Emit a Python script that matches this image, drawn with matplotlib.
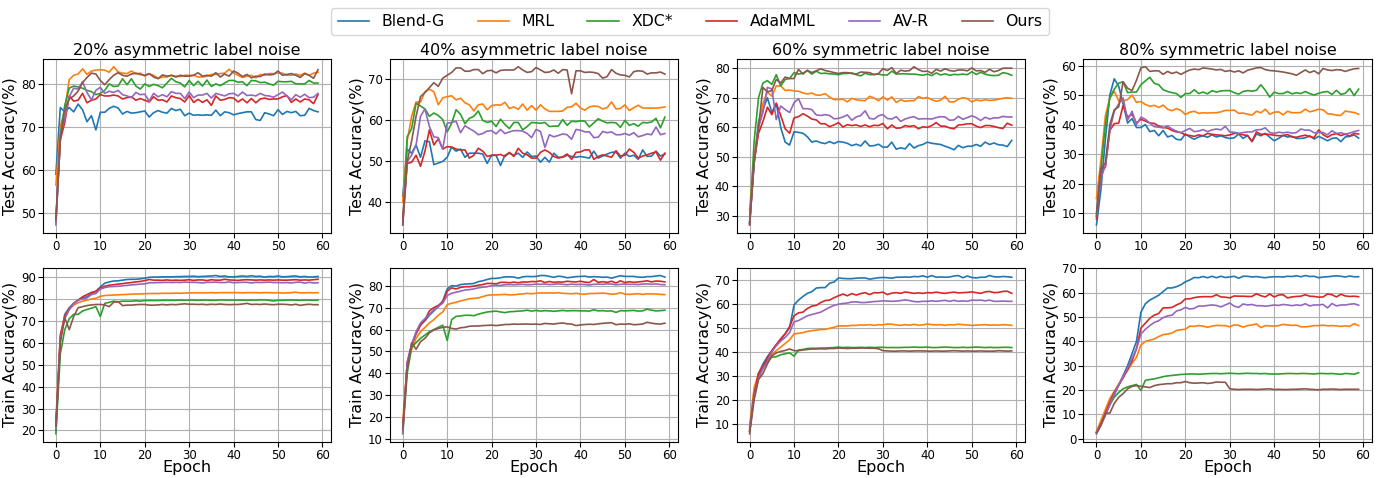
import matplotlib
matplotlib.use("Agg")
import matplotlib.pyplot as plt
from matplotlib.ticker import MultipleLocator

methods = ["Blend-G", "MRL", "XDC*", "AdaMML", "AV-R", "Ours"]
colors = ["#1f77b4", "#ff7f0e", "#2ca02c", "#d62728", "#9467bd", "#8c564b"]
epochs = list(range(60))

titles = ["20% asymmetric label noise", "40% asymmetric label noise",
          "60% symmetric label noise", "80% symmetric label noise"]

# ---- test accuracy, 20% asymmetric ----
test20_blend = [59, 74.5, 73.5, 74.5, 73.5, 75.3, 74, 71.2, 72.6, 69.3, 73.4, 73.4, 74.3, 74.8, 74.4, 73, 73.6, 73.2, 73.3, 73.5,
                73.7, 72.3, 73.3, 73.8, 73.4, 73.2, 74.3, 73.8, 74.1, 72.6, 73.2, 72.7, 72.8, 72.7, 72.8, 72.7, 73.9, 72.6, 73.5, 73.3,
                72.8, 73.1, 73.3, 73.5, 73.5, 71.7, 71.5, 73.3, 73, 72.6, 74, 72.9, 73.6, 73.3, 73.6, 72.6, 72.7, 74.3, 73.8, 73.5]
test20_mrl = [56.5, 70, 74, 81, 82, 82.3, 83.5, 82.2, 83, 83.2, 83.3, 83.2, 82.7, 84, 82.8, 82.5, 82.4, 83, 82.3, 82.5,
              81.8, 82.3, 82, 81.3, 81.6, 81.6, 82, 81.8, 81.7, 82, 82, 82, 81.6, 81.6, 81.8, 82.2, 82.2, 82.4, 82.5, 83.4,
              82.5, 82, 81.5, 81.8, 82, 81.4, 82.2, 82, 82.4, 82.4, 82.5, 82.5, 82, 82, 82.3, 82, 82.5, 82, 82.5, 82.7]
test20_xdc = [48, 68, 75, 79, 79.5, 79.3, 79, 78.5, 78.2, 77.5, 77.8, 78.5, 80, 79.4, 79.5, 81.2, 79.8, 81.2, 79.5, 78.8,
              80, 79.4, 79.9, 79.6, 79.1, 80.2, 81.3, 80.5, 80.2, 79.3, 80.8, 79.6, 80.6, 79.5, 80.9, 79.4, 80, 79.6, 80.2, 80.8,
              80.8, 80.4, 80.5, 79.6, 80.8, 80.7, 80.3, 80.4, 80, 79.7, 80.6, 80.5, 80.5, 80.6, 80, 80, 80, 80.8, 80.2, 80.2]
test20_ada = [48, 67, 71, 77.2, 76, 76.2, 77.8, 75.6, 76.2, 76.5, 77.5, 77.2, 77.2, 77.4, 77.2, 76.5, 76.8, 77, 76.2, 76.6,
              76.2, 75.8, 77, 76.2, 76.3, 75.8, 77.2, 76.8, 76.6, 75.8, 77.3, 75.7, 76.4, 75.7, 76.3, 75, 77.2, 76.2, 76.4, 76.8,
              76.7, 75.8, 76.5, 75.6, 76.6, 75.6, 76.5, 76.7, 76.4, 76.5, 76.5, 77, 77.3, 75.7, 76.5, 75.8, 76.5, 76.3, 75.4, 77.5]
test20_avr = [47.2, 68, 72, 77, 79, 78.8, 80.5, 78, 76.3, 78.5, 79.2, 77.8, 78.3, 78, 78.5, 77.5, 77.2, 76.8, 78, 77.5,
              77.6, 76, 77.8, 77, 77.5, 77, 78.2, 77.8, 77.8, 76.6, 78.1, 76.8, 77.4, 77.4, 77.8, 76.7, 77.8, 77.5, 77.2, 77.7,
              77.8, 77.2, 78.1, 77.3, 77.4, 77.2, 77.8, 77.3, 77.2, 76.9, 77.5, 78.1, 77.2, 76.3, 77.5, 76.9, 77.6, 76.8, 76.9, 77.8]
test20_ours = [48.5, 67, 74, 76.5, 77.2, 78.3, 80.3, 81.5, 82.5, 82.3, 80.8, 79.8, 81, 82, 82.6, 82, 81.8, 82.3, 82.5, 82.2,
               82, 82.4, 81.6, 81.2, 82.1, 81.8, 82, 81.6, 82, 81.8, 81.8, 82, 82.6, 81.8, 82, 81.8, 82.6, 81.6, 82.3, 81.8,
               83, 82.5, 81.7, 82.2, 81.4, 81.8, 81.7, 82.3, 82.1, 82.2, 83, 82, 82.2, 82.4, 82, 81.5, 82.4, 82, 81.3, 83.3]

# ---- test accuracy, 40% asymmetric ----
test40_blend = [41.5, 53, 52, 54, 51, 55, 54.8, 49.2, 49.6, 50, 51, 53.5, 52.5, 53, 51, 52, 52, 52, 51.8, 49.5,
                51.5, 51.5, 49, 51.5, 52, 51.5, 52, 51, 52.3, 51.2, 51.3, 49.8, 51, 49.8, 52, 51, 51, 51.5, 51.2, 51,
                51.2, 51, 50.8, 52.5, 50.8, 51.3, 51.8, 52.2, 52.3, 50.8, 52, 51.2, 51.5, 50.5, 52.8, 51.2, 51.3, 52.5, 51.3, 51.8]
test40_mrl = [40, 55, 61, 64.5, 64.5, 67, 67.6, 67, 63.8, 65.5, 65.8, 66, 65, 65.4, 64.3, 63.8, 62.3, 63.8, 64, 62.6,
              63.6, 63.8, 63.7, 64.4, 62.9, 63.3, 62.7, 64, 62.5, 63.6, 62.5, 63.8, 62.8, 62.2, 62.2, 62.2, 62.3, 63.2, 63.3, 64.2,
              63, 62.5, 63.3, 63.5, 63.4, 62.8, 63.1, 64.5, 62.8, 62.9, 63.8, 62.4, 63.1, 63.7, 63, 63, 63, 63, 63.1, 63.3]
test40_xdc = [35, 56, 58, 64.2, 63.5, 62.8, 61, 61.8, 61.2, 60.2, 57.2, 59.3, 62.6, 61.5, 59.2, 60.5, 61, 62.3, 60, 59.5,
              59.8, 58.5, 60.3, 59, 58, 59.5, 59.5, 57.7, 58.5, 59.5, 59.4, 59.3, 59.5, 58.5, 58.6, 58.6, 60.2, 58.8, 59.8, 59.7,
              59.9, 59.8, 58.4, 59.4, 60.4, 59.8, 59.4, 59.5, 59.4, 58.3, 60, 58.8, 59.2, 58.6, 59.5, 59.4, 59.6, 60.5, 58.2, 60.8]
test40_ada = [36, 49.5, 49.8, 51.5, 48.8, 52.5, 57.7, 54, 55.5, 53, 53.6, 53.5, 53, 52.8, 52.8, 50.8, 51.5, 53.2, 52.5, 51.2,
              51.5, 51.5, 51.7, 51.2, 52.2, 51.2, 53.2, 52, 51.6, 50.8, 50.8, 52.2, 52.8, 52.2, 51.2, 50.8, 51.1, 51.8, 50.5, 52.2,
              52.3, 52.8, 52.8, 50.5, 51.2, 51.6, 51.3, 51, 52.6, 51.3, 51.5, 53, 52.2, 50.8, 51.3, 51.6, 52, 52.3, 50.3, 52]
test40_avr = [34.5, 50, 51.5, 54, 61, 62.8, 58.5, 56, 55.8, 53, 59.3, 59.5, 59.8, 57, 58.7, 58, 57.4, 56.5, 56.8, 57.4,
              57.5, 56.7, 57.8, 56.8, 57.2, 57.5, 57.5, 57.4, 56.8, 55.8, 57.8, 57.3, 53.4, 56.5, 56, 56.3, 56.7, 56.5, 55.4, 57.8,
              57.6, 57.2, 57.2, 55.8, 55.9, 57.3, 57, 57.2, 56.5, 56.5, 56.8, 56.4, 57, 56, 56.3, 56.7, 56.5, 58.4, 56.5, 56.8]
test40_ours = [34.5, 50, 55, 61, 65.8, 66.8, 68, 69.2, 68.3, 70.3, 71, 71.7, 72.8, 72.8, 72, 72, 72.4, 72.4, 71.4, 72.1,
               72.2, 71.6, 72.2, 72.3, 72.3, 72.3, 73.1, 72.3, 71.7, 71.9, 72.9, 72.3, 71.7, 71.8, 72.3, 71.5, 72.4, 72.3, 66.5, 72.1,
               72.1, 71.7, 71.8, 71.7, 71.4, 70.3, 70.7, 72.4, 71.5, 71.1, 71, 70.6, 71.9, 72.1, 72, 71.3, 71.6, 71.6, 71.8, 71.3]

# ---- test accuracy, 60% symmetric ----
test60_blend = [28, 48, 62, 66, 70, 65, 68, 60, 55, 54, 58.5, 58.3, 58, 56.8, 55, 55.4, 54.8, 54.5, 55.2, 54.5,
                55.2, 55, 54.6, 53.8, 54.3, 53.7, 55.4, 53.7, 53.8, 54.3, 53.3, 53.3, 55, 52.6, 53.1, 52.7, 54.5, 53, 53.8, 54.2,
                55, 54.6, 54.4, 54.2, 53.6, 53.1, 52.4, 53.9, 53.1, 53.6, 53.6, 54.2, 53.6, 55, 54.2, 54.7, 54.1, 54, 53.5, 55.6]
test60_mrl = [32, 50, 60, 68, 72, 70.5, 74, 74, 72.5, 72.6, 72.3, 72.2, 71.6, 71.3, 71.6, 70.9, 70.9, 71.4, 70.2, 69.4,
              69.4, 69.5, 68.6, 69.8, 69.3, 69.1, 69, 70.5, 69.9, 69, 70.3, 69.2, 70.3, 68.4, 69.3, 68.8, 69, 69, 70.4, 69.8,
              70.1, 69.3, 68.8, 69.2, 70.5, 68.6, 68.6, 69.5, 70, 69.7, 68.6, 69.3, 69, 69.3, 69.1, 69.2, 69.5, 69.8, 70, 69.8]
test60_xdc = [27.5, 55, 70, 75, 75.8, 74.5, 77.8, 74, 76.2, 76.5, 78.5, 78, 78.3, 79.2, 78, 79, 78.2, 78.3, 78.1, 78,
              77.8, 78.2, 78.2, 78.4, 77.8, 77.4, 78.3, 77.8, 77.9, 78, 77.7, 77.7, 79, 78, 78.1, 78.1, 78, 78, 77.8, 77.6,
              78, 77.5, 78.4, 77.7, 78.1, 77.6, 77.9, 77.8, 78, 77.8, 78.8, 77.9, 78.6, 78, 77.6, 77.5, 77.6, 78.5, 78.2, 77.6]
test60_ada = [27.5, 48, 58, 62, 66.8, 64.3, 68.2, 64, 59.5, 58, 63.2, 63.6, 64.6, 63.8, 62.8, 62.5, 61.2, 61.2, 60.2, 60.8,
              61.6, 60.1, 60.9, 60.6, 60.8, 60.3, 60.8, 60.2, 60.7, 60.6, 61.3, 59.5, 60.8, 59.7, 59.8, 60.6, 60.3, 60.6, 59.5, 60.2,
              60, 60.6, 61.6, 60.4, 60.4, 59.8, 59.5, 60.8, 60.9, 61.2, 61.2, 60.4, 59.9, 60.6, 60.6, 60.3, 59.9, 59.6, 61.4, 60.7]
test60_avr = [27, 48, 60, 65, 73.5, 73, 62.6, 67.2, 66, 65, 68.3, 69.7, 66.3, 66.3, 66, 64.2, 64, 64.3, 64, 62.9,
              63, 63.5, 64.2, 62.4, 63.5, 64, 65.6, 63, 62.8, 63.9, 64.3, 63, 62.8, 63.6, 62, 62.8, 63.3, 63.6, 62.8, 62.9,
              62.9, 62.8, 63.3, 63.6, 63.5, 62.4, 62.5, 63.7, 62.7, 63.3, 63.9, 63.3, 62.3, 63.4, 62.8, 63.2, 63.2, 63.7, 63.5, 63.5]
test60_ours = [27, 48, 60, 73.5, 72, 72.5, 76.2, 75, 77, 76.5, 76.5, 79.6, 78, 79.3, 78.5, 79.1, 79.8, 79.2, 78.9, 78.5,
               78.2, 78.5, 78.5, 78.2, 78, 78.7, 78.6, 78.5, 77.8, 78.2, 79.8, 79.2, 80.2, 78.2, 79.3, 79, 79.2, 80.5, 79.5, 78.9,
               79, 78.3, 79.6, 79, 79.8, 79.2, 79, 79.4, 79.4, 79.1, 80.1, 79.1, 79.2, 78.6, 79.6, 78.8, 79.2, 80, 80, 80]

# ---- test accuracy, 80% symmetric ----
test80_blend = [6, 18, 35, 50, 55.5, 53, 47, 40.5, 42, 39, 39, 40, 37.6, 38, 36.2, 38, 35.8, 36.3, 35, 34.8,
                36.8, 35.8, 35, 35.8, 36.2, 35.7, 36.5, 35.8, 36.2, 35.6, 35.3, 35.5, 36.8, 35.3, 36.3, 34.2, 36.8, 36.2, 37, 35.7,
                34.5, 35.3, 36.3, 35.8, 36, 35.3, 35.3, 35.5, 36.2, 35.1, 36, 35.3, 34.5, 35.3, 35.5, 34.2, 35.8, 36, 36.5, 35.4]
test80_mrl = [15, 28, 43, 49, 51.3, 48, 48, 48.5, 50, 47.5, 47.8, 46.8, 46.2, 46.5, 45.8, 46.6, 45.2, 44.7, 45.4, 44.8,
              43.4, 44.2, 44.5, 43.8, 44, 43.9, 44, 44, 44.3, 44.8, 44.8, 44.9, 43.8, 43.9, 43.5, 43.2, 44.5, 44, 45.2, 43.5,
              44.2, 44.3, 43.3, 44.5, 44, 44, 44.1, 45.2, 44.3, 44.7, 45.2, 45, 43.7, 43.5, 43.2, 43.1, 44.6, 44.3, 44.1, 43.5]
test80_xdc = [10, 25, 40, 49, 52, 54, 54.5, 50.8, 51, 51, 53.5, 54.8, 56, 54, 53.5, 51.8, 51.2, 50.8, 50.5, 49.2,
              50.5, 50.5, 51.8, 50.5, 51, 50.4, 51.5, 51, 51.4, 51.5, 51.5, 50.8, 50.3, 51.2, 51.5, 51.3, 51.6, 53.5, 51.6, 49.3,
              51, 50.5, 50.5, 51.2, 50.4, 50.8, 50.5, 51.2, 50.5, 50, 50.6, 51, 51.2, 50.2, 51.6, 50.2, 50.6, 52.2, 49.8, 52]
test80_ada = [8, 25, 25.5, 38, 40.3, 40.5, 46.5, 42.5, 43.5, 40.5, 41.8, 41.2, 40.5, 40.4, 39.5, 39, 38.8, 38, 37.5, 37.3,
              36.5, 36.3, 36, 36.5, 36.2, 37, 36.7, 36.5, 36.4, 36.2, 36.5, 37, 37, 36.5, 36.3, 34.3, 37.5, 36.7, 36.8, 36.6,
              36.4, 36.2, 36.3, 36.6, 35.8, 35.7, 36.1, 36.4, 35.9, 35.6, 38.2, 36.6, 35.7, 36.6, 36.9, 36.3, 36.7, 36.1, 37, 36.8]
test80_avr = [9, 22, 26, 38, 44.5, 47, 49, 41.5, 44.5, 40, 42.5, 41.8, 40.5, 39.3, 39.1, 38.9, 39.5, 38.5, 37.8, 37.2,
              38, 38.7, 37.6, 37.8, 38.3, 37.6, 38.2, 38.5, 38.2, 39.4, 37.5, 37.4, 37, 37.3, 37.5, 37.5, 38.2, 38.3, 38.9, 37.3,
              37, 37.4, 37.2, 37.4, 37.1, 37.3, 38.5, 38.1, 38.1, 37.2, 37.3, 37.3, 36.5, 37.9, 37, 37.2, 36.8, 37.1, 37.6, 38]
test80_ours = [9, 25, 27, 40, 45, 46, 54.5, 52.3, 51.5, 55, 59.2, 59.6, 58, 58.2, 58.2, 57, 58, 57.3, 57.8, 57,
               57.8, 58.5, 58.8, 58.6, 59.2, 59, 58.8, 58.5, 58.7, 58, 58.3, 57.8, 58.2, 57.5, 58.4, 58.8, 59.2, 59.3, 58.6, 58.3,
               58.2, 58, 57.8, 57.5, 57.2, 56.7, 57.6, 58.5, 57.6, 58.2, 57.2, 59, 58.5, 58.3, 58.6, 58.5, 58, 58.5, 58.9, 59]

# ---- train accuracy, 20% asymmetric ----
train20_blend = [20, 62, 73, 76, 78, 79.5, 80.5, 81, 82.5, 83.5, 85.5, 87.2, 87.8, 88.2, 88.3, 88.6, 88.9, 89, 89, 89.2,
                 89.5, 89.9, 90, 90, 90.1, 90.1, 90.1, 90.2, 90.2, 90.3, 90.3, 90.4, 90.2, 90.3, 90.4, 90.5, 90.7, 90.3, 90.5, 90.1,
                 90.1, 90.3, 90.5, 90.3, 90.6, 90.3, 90.4, 90, 90.3, 90.2, 90.5, 90.1, 90.2, 90.4, 90.5, 90.1, 90.3, 90, 90.1, 90.3]
train20_mrl = [24, 64, 72, 75.5, 77.2, 78.3, 79, 79.5, 80, 80.3, 81.2, 81.6, 81.7, 81.8, 81.9, 82, 82.1, 82.2, 82.3, 82.3,
               82.4, 82.5, 82.5, 82.5, 82.6, 82.6, 82.6, 82.7, 82.6, 82.7, 82.8, 82.8, 82.8, 82.8, 82.8, 82.9, 82.8, 82.9, 82.9, 82.9,
               82.9, 82.9, 82.8, 82.9, 82.9, 82.9, 82.8, 82.9, 82.9, 82.8, 82.9, 82.7, 82.8, 82.9, 83.1, 82.8, 82.8, 82.9, 82.8, 82.9]
train20_xdc = [18.5, 55, 66, 71, 73, 73, 74.5, 75.2, 75.8, 76.5, 72, 78, 78.5, 79, 78.7, 79, 79, 79, 79.2, 79,
               79.3, 79.3, 79.3, 79.3, 79.4, 79.4, 79.4, 79.4, 79.5, 79.4, 79.5, 79.5, 79.4, 79.5, 79.5, 79.4, 79.4, 79.6, 79.5, 79.5,
               79.5, 79.5, 79.5, 79.4, 79.5, 79.5, 79.6, 79.6, 79.4, 79.1, 79.4, 79.4, 79.5, 79.5, 79.5, 79.4, 79.5, 79.5, 79.4, 79.5]
train20_ada = [22, 63, 72, 75.5, 78, 79.5, 81, 82, 83, 83.5, 85, 85.8, 86.3, 86.5, 86.8, 87, 87.3, 87.5, 87.8, 88,
               88.4, 88.9, 88.6, 88.6, 88.5, 88.7, 88.5, 88.6, 88.5, 88.6, 88.8, 88.5, 88.7, 88.7, 88.4, 88.8, 88.6, 88.6, 89, 88.7,
               88.6, 88.5, 88.7, 88.8, 88.7, 88.6, 88.7, 88.6, 88.7, 88.6, 88.7, 88.6, 88.6, 88.7, 88.8, 88.6, 88.7, 88.6, 88.8, 89]
train20_avr = [21, 62, 71, 75, 77.8, 79.5, 80, 80.5, 82, 82.5, 84.5, 85.2, 85.6, 85.7, 85.8, 86, 86.2, 86.4, 86.6, 86.8,
               86.9, 87.4, 87.4, 87.5, 87.5, 87.6, 87.5, 87.6, 87.5, 87.7, 87.6, 87.6, 87.5, 87.3, 87.6, 87.6, 87.7, 87.5, 87.5, 87.8,
               87.4, 87.5, 87.6, 87.6, 87.3, 87.6, 87.5, 87.6, 87.7, 87.5, 87.5, 87.4, 87.5, 87.3, 87.6, 87.7, 87.2, 87.6, 87.3, 87.4]
train20_ours = [22, 60, 71.5, 66, 72, 76, 76.5, 77, 77.3, 77.5, 77.5, 77.3, 76.5, 78.5, 78.8, 77, 77.2, 77.2, 77.4, 77.5,
                77.5, 77.2, 77.2, 77.3, 77.5, 77.3, 77.5, 77.4, 77.6, 77.8, 77.6, 77.6, 77.5, 77.6, 77.4, 77.6, 77.5, 77.7, 77.5, 77.4,
                77.5, 77.5, 77.7, 78, 77.5, 77.6, 77.5, 77.7, 77.5, 77.4, 77.6, 77.6, 77.5, 77.3, 77.6, 77.1, 77.4, 77.6, 77.4, 77.4]

# ---- train accuracy, 40% asymmetric ----
train40_blend = [14, 44, 53, 58.5, 62, 64, 66.5, 68.5, 70.5, 73, 78.5, 80, 79.8, 80.5, 80.7, 80.8, 81, 81.8, 82.2, 82.8,
                 83.3, 83.3, 83.6, 84, 84, 83.9, 83.4, 84, 84.2, 84.1, 84.2, 84.6, 84.6, 84.2, 83.8, 84.3, 84.1, 83.6, 83.8, 84.1,
                 84.2, 84.3, 83.9, 84.1, 84, 83.8, 83.9, 83.4, 84, 84.5, 84.2, 84.2, 84.2, 83.9, 83.8, 84.1, 84.1, 84.4, 84.6, 83.9]
train40_mrl = [18, 44, 51, 56, 59, 61, 63, 64.5, 66.5, 68, 71.3, 72, 72.4, 73, 73.5, 74, 74.2, 74.4, 75, 75.6,
               75.8, 75.8, 75.9, 76, 75.8, 75.8, 76.1, 76.2, 76.5, 76.3, 76.5, 76.7, 76.6, 76.7, 76.6, 76.8, 76.5, 76.4, 76.3, 76.5,
               76.2, 76.1, 76.4, 76.4, 76.5, 76.6, 76.4, 76.1, 76.2, 76.8, 76.1, 76, 76.2, 76.3, 76, 76.3, 76.2, 76.2, 76, 75.9]
train40_xdc = [12.5, 40, 52, 54, 56, 57.5, 59, 60, 61, 62, 55, 64.5, 66, 66.2, 66.5, 66.5, 66.3, 67, 67.5, 68,
               68.2, 68.4, 68, 67.7, 68.1, 68.2, 68.4, 68.5, 68.8, 68.4, 68.7, 68.4, 68.6, 68.5, 68.3, 68.5, 68.7, 68.5, 68.6, 68.6,
               68.5, 68.5, 68.4, 69, 68.5, 68.6, 68.4, 68.5, 67.8, 68.6, 68.5, 68.6, 68.7, 68.4, 68.5, 69.3, 68.8, 68.5, 68.6, 68.8]
train40_ada = [14, 45, 53, 58, 62, 64.5, 68.5, 70, 71, 72.5, 77.5, 79, 78.5, 79.2, 79.5, 79.5, 79.8, 80.2, 80.5, 81,
               81, 80.8, 81.5, 81.5, 81.3, 81.6, 81.3, 81.7, 81.6, 81.9, 81.8, 82.2, 81.4, 81.9, 81.5, 81.7, 81.6, 82, 81.8, 81.7,
               82, 81.6, 81.4, 82.8, 81.5, 81.8, 81.5, 82, 81.2, 82.2, 81.4, 81.8, 81.5, 81.7, 81.9, 82.2, 81.7, 82.1, 82, 81.7]
train40_avr = [13, 45, 53, 59, 63, 65, 67, 69, 70.5, 72, 75.5, 76.5, 77, 77.5, 78, 78.2, 78.5, 79, 79.3, 79.5,
               80, 80.2, 80.1, 80.4, 80.5, 80.4, 80.5, 80.6, 80.4, 80.5, 80.7, 80.6, 80.7, 80.5, 80.6, 80.8, 80.6, 80.4, 80.7, 80.5,
               80.6, 80.5, 80.3, 80.6, 80.7, 80.6, 80.8, 80.7, 80.4, 80.6, 80.7, 80.6, 80.6, 80.5, 80.7, 80.8, 80.6, 80.8, 80.5, 80.4]
train40_ours = [15, 42, 54, 51, 54.5, 56, 58.5, 59.8, 60.5, 61, 61.2, 60.5, 60.2, 60.8, 61, 61.5, 61.6, 61.6, 61.8, 61.9,
                62, 61.8, 62, 62.3, 62.3, 62.5, 62.4, 62.5, 62.5, 62.4, 62.5, 62.3, 62.8, 62.6, 62.5, 62.8, 63, 62.6, 62.5, 61.8,
                62.1, 62.3, 62.4, 62.3, 62.6, 62.8, 63, 63.1, 62.2, 62.5, 62.4, 62.6, 62.2, 62.3, 62.5, 63.3, 62.9, 62.6, 62.5, 62.9]

# ---- train accuracy, 60% symmetric ----
train60_blend = [8, 23, 31, 35, 38, 40.5, 43, 45, 47.5, 50, 59.5, 61.5, 63, 64.3, 65, 66.5, 66.7, 66.7, 68.5, 69,
                 70.7, 70.5, 70.4, 70.4, 70.6, 70.7, 70.7, 70.2, 70.5, 70.8, 70.9, 70.8, 70.6, 71, 71, 71.1, 71, 71.3, 71.2, 71.6,
                 71, 71.7, 71, 71.1, 71, 71.1, 71.5, 71.7, 70.8, 71.5, 70.9, 70.7, 71, 71, 71.7, 71.2, 71.1, 71.3, 71.2, 71]
train60_mrl = [9, 25, 31, 34, 37, 39, 40.5, 42, 43.5, 45, 47.5, 47.7, 48, 48.5, 48.8, 49, 49.3, 49.3, 49.8, 50.2,
               50.8, 50.8, 50.8, 51, 51, 51.2, 51.1, 51.3, 51, 51.3, 51.2, 51.6, 51.5, 51.2, 51, 51.3, 51.1, 51.4, 51.1, 51.2,
               51.6, 51.3, 51.2, 51.3, 51, 51.3, 51.2, 51.5, 51.3, 51.2, 51, 51.1, 51.2, 51.3, 51.1, 51.2, 51.1, 51.3, 51.2, 51]
train60_xdc = [7, 22, 30, 33.5, 36, 37.8, 38, 38.8, 39.2, 39.6, 38.2, 40.8, 41, 41.4, 41.5, 41.5, 41.6, 41.6, 41.7, 41.8,
               42, 41.8, 41.9, 41.8, 41.8, 41.9, 41.8, 41.9, 41.8, 41.9, 41.9, 41.8, 41.8, 41.8, 41.8, 41.9, 41.9, 42, 41.9, 41.9,
               42, 41.8, 41.8, 41.9, 42, 41.9, 41.8, 41.8, 41.9, 41.8, 41.9, 42, 41.9, 41.8, 41.9, 41.8, 41.8, 41.9, 41.9, 41.8]
train60_ada = [7, 22, 31, 34, 37.5, 40.5, 43, 45.5, 47.5, 50.5, 55, 56.2, 56.5, 58, 59, 59.3, 60.5, 61.3, 61.5, 62.5,
               63.3, 64, 63.3, 64.2, 63.6, 64.2, 64.6, 63.8, 64.6, 64.5, 64.8, 63.8, 64.4, 64.6, 64.3, 64.9, 64.6, 64.3, 64.5, 64.3,
               64.6, 64.5, 64.8, 64.5, 64.3, 64.6, 64.8, 64.5, 64.6, 64.7, 64.9, 64.6, 64.3, 64.9, 65.1, 64.6, 64.7, 65.1, 65.2, 64.3]
train60_avr = [7, 21, 29, 33, 36, 40, 42.5, 44.5, 46, 48, 52.5, 53, 54, 55, 55.5, 56, 56.5, 57.5, 58.5, 59.3,
               59.8, 60.1, 60.3, 60.7, 60.8, 60.5, 60.5, 60.7, 60.9, 61, 61.2, 61.1, 61, 61.1, 61.3, 61.6, 61.3, 60.9, 60.8, 61,
               61, 61.2, 61, 61.2, 61.4, 61, 61.4, 61, 61.2, 61, 61.5, 61.4, 61.5, 61.2, 61.5, 61, 61, 61.1, 61, 61]
train60_ours = [6, 20, 28.5, 31, 35, 38.3, 39.6, 40.2, 40.6, 41.2, 40.5, 40.5, 40.8, 41, 41.2, 41.2, 41.3, 41.2, 41.4, 41.4,
                41.6, 41.5, 41.4, 41.5, 41.5, 41.6, 41.6, 41.5, 41.5, 41.3, 40.5, 40.4, 40.3, 40.3, 40.4, 40.4, 40.3, 40.4, 40.4, 40.4,
                40.3, 40.3, 40.4, 40.3, 40.3, 40.4, 40.5, 40.4, 40.3, 40.4, 40.3, 40.3, 40.4, 40.3, 40.3, 40.3, 40.5, 40.4, 40.3, 40.4]

# ---- train accuracy, 80% symmetric ----
train80_blend = [2.5, 6, 10, 14, 18, 22, 26, 30, 35, 40, 52, 55.5, 57, 58, 59, 60.5, 62, 62, 62.5, 63.3,
                 64.5, 65.3, 66.3, 66.2, 66.7, 66.2, 66.8, 66.2, 66.8, 66.3, 66.5, 66.8, 66, 66.8, 66.8, 66.5, 66.7, 66.4, 66.2, 66.5,
                 66.6, 66.6, 66.5, 66.8, 66.7, 67, 66.6, 67.1, 66.7, 66.8, 66.2, 66.5, 66.6, 66.8, 67, 66.8, 66.5, 66.9, 66.6, 66.6]
train80_mrl = [3, 7.5, 12, 16.5, 19.5, 22.5, 25.5, 28, 31, 33.5, 38.5, 40, 40.5, 41, 42, 42.8, 43, 43.5, 44.5, 44.8,
               45, 46.3, 46.2, 46.5, 46.3, 45.8, 46.3, 46.6, 46.5, 46.5, 46, 46.8, 46.6, 45.9, 46.5, 46.8, 47.2, 45.7, 46.5, 46.4,
               46.3, 46.5, 47, 46.8, 46.6, 46.7, 46, 46, 46.2, 46.5, 46.5, 46.7, 46.4, 46.5, 46.4, 46.2, 46.4, 46.2, 47.3, 46.5]
train80_xdc = [2.5, 6, 10, 14, 17, 19, 20.5, 21.3, 21.8, 22.3, 19.8, 24, 24.3, 24.6, 25, 25.5, 25.8, 26, 26.2, 26.4,
               26.5, 26.6, 26.6, 26.5, 26.6, 26.7, 26.8, 26.8, 26.7, 26.8, 26.9, 26.8, 26.7, 26.8, 26.9, 26.8, 26.8, 26.7, 26.8, 26.6,
               26.6, 26.6, 26.7, 26.8, 26.8, 26.7, 26.8, 26.8, 26.7, 26.6, 26.8, 26.8, 26.7, 26.8, 26.6, 26.5, 26.8, 26.7, 26.5, 27.1]
train80_ada = [2.5, 6, 10.5, 15, 19, 22, 25, 28.5, 32, 37, 45.5, 47.5, 49.5, 50.8, 51.5, 53.8, 53.8, 54, 55, 55.8,
               57.5, 57.5, 58, 58.3, 58.4, 58.4, 58.4, 59.2, 58.3, 58.2, 57.9, 58.7, 58.6, 58.6, 58.5, 58.5, 59.6, 58.8, 58.3, 59.5,
               58.3, 59.1, 59.2, 57.9, 58.3, 58.5, 58.6, 59.2, 58.6, 58.5, 58.2, 58.3, 59.5, 59.2, 58.3, 59.4, 58.7, 58.5, 58.6, 58.4]
train80_avr = [2.5, 5.5, 9.5, 14, 18.5, 22, 25.5, 29, 33, 37, 43, 45, 46.5, 47.8, 48.5, 49.8, 50.5, 50.8, 52.5, 53,
               54, 53.3, 53.6, 54.6, 54.5, 54.8, 55, 54.8, 54.2, 55, 55.8, 54.5, 54, 55.4, 55, 55.2, 54.7, 54.7, 54.5, 54.7,
               55, 54.8, 55.2, 55, 54.7, 55, 54.8, 55.5, 54.6, 55, 55, 55.2, 53.8, 55.6, 54.6, 55, 55, 55.3, 55.5, 54.9]
train80_ours = [2, 5.5, 10.5, 10.5, 14.5, 17, 18.5, 20.5, 21.5, 21.8, 21.5, 21.3, 21, 21.8, 22.2, 22.4, 22.6, 22.6, 23, 23,
                23.5, 23, 22.8, 22.9, 23, 22.7, 22.9, 23.3, 23.2, 23.2, 20.5, 20.3, 20.2, 20.3, 20.3, 20.3, 20.2, 20.3, 20.4, 20.5,
                20.2, 20.3, 20.2, 20.2, 20.3, 20.3, 20.4, 20.5, 20.3, 20.2, 20.1, 20.3, 20.3, 20.4, 20.3, 20.2, 20.3, 20.3, 20.3, 20.3]

test_rows = [
    [test20_blend, test20_mrl, test20_xdc, test20_ada, test20_avr, test20_ours],
    [test40_blend, test40_mrl, test40_xdc, test40_ada, test40_avr, test40_ours],
    [test60_blend, test60_mrl, test60_xdc, test60_ada, test60_avr, test60_ours],
    [test80_blend, test80_mrl, test80_xdc, test80_ada, test80_avr, test80_ours],
]
train_rows = [
    [train20_blend, train20_mrl, train20_xdc, train20_ada, train20_avr, train20_ours],
    [train40_blend, train40_mrl, train40_xdc, train40_ada, train40_avr, train40_ours],
    [train60_blend, train60_mrl, train60_xdc, train60_ada, train60_avr, train60_ours],
    [train80_blend, train80_mrl, train80_xdc, train80_ada, train80_avr, train80_ours],
]

fig, axes = plt.subplots(2, 4, figsize=(13.8, 4.78), dpi=100)
plt.subplots_adjust(left=0.031, right=0.994, top=0.877, bottom=0.076, wspace=0.203, hspace=0.2)

for col in range(4):
    ax = axes[0, col]
    for k in range(6):
        ax.plot(epochs, test_rows[col][k], color=colors[k], lw=1.2, label=methods[k])
    ax.set_title(titles[col], fontsize=11.5, pad=3)
    ax.set_ylabel("Test Accuracy(%)", fontsize=11.5, labelpad=2)

    ax = axes[1, col]
    for k in range(6):
        ax.plot(epochs, train_rows[col][k], color=colors[k], lw=1.2)
    ax.set_ylabel("Train Accuracy(%)", fontsize=11.5, labelpad=2)
    ax.set_xlabel("Epoch", fontsize=11.5, labelpad=-1)

for ax in axes.flat:
    ax.yaxis.set_major_locator(MultipleLocator(10))
    ax.grid(True)
    ax.tick_params(labelsize=8.5, pad=1.5)

handles, labels = axes[0, 0].get_legend_handles_labels()
fig.legend(handles, labels, loc="upper center", ncol=6, fontsize=11.3,
           bbox_to_anchor=(0.5, 1.0), columnspacing=2.1)

plt.savefig("out.png")
